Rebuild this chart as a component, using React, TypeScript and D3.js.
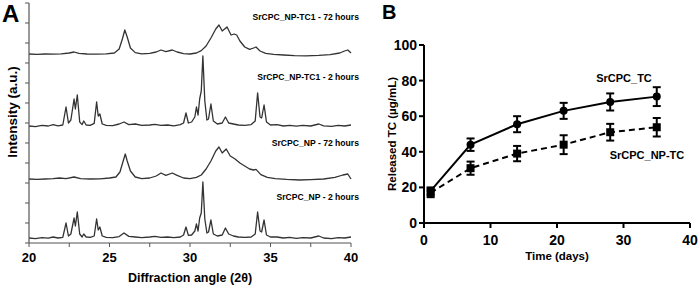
import React from "react";
import * as d3 from "d3";

// ---------- Panel A data (XRD traces, stacked, arbitrary units) ----------
const npTc1_72h: [number, number][] = [[20,9.45],[20.5,9.43],[21.0,9.45],[21.5,9.44],[22.0,9.46],[22.5,9.5],[22.8,9.55],[23.1,9.48],[23.6,9.45],[24.2,9.44],[24.8,9.46],[25.3,9.5],[25.6,9.7],[25.8,10.2],[25.95,10.65],[26.1,10.3],[26.3,9.75],[26.6,9.52],[27.0,9.46],[27.5,9.48],[27.9,9.55],[28.2,9.65],[28.5,9.57],[28.9,9.65],[29.2,9.55],[29.6,9.47],[30.0,9.45],[30.4,9.5],[30.7,9.62],[31.0,9.85],[31.3,10.25],[31.6,10.7],[31.8,10.9],[32.0,10.6],[32.3,10.8],[32.55,10.4],[32.75,10.45],[32.9,10.4],[33.1,10.1],[33.4,9.8],[33.7,9.68],[33.95,9.75],[34.1,9.8],[34.35,9.6],[34.7,9.48],[35.2,9.43],[35.8,9.4],[36.5,9.37],[37.2,9.36],[38.0,9.38],[38.7,9.42],[39.3,9.5],[39.6,9.6],[39.8,9.65],[40.0,9.5]];
const npTc1_2h: [number, number][] = [[20,5.85],[20.4,5.82],[20.8,5.88],[21.2,5.85],[21.5,5.92],[21.8,5.86],[22.1,5.9],[22.3,6.8],[22.45,6.0],[22.6,6.15],[22.8,7.2],[22.88,6.7],[23.0,7.4],[23.15,6.05],[23.3,5.92],[23.4,6.1],[23.55,5.9],[23.8,5.88],[24.05,5.98],[24.2,7.05],[24.3,6.35],[24.4,6.45],[24.55,5.95],[24.8,5.88],[25.2,5.87],[25.6,5.95],[25.9,6.05],[26.2,5.92],[26.6,5.95],[27.0,5.88],[27.5,5.9],[27.8,5.93],[28.2,5.88],[28.6,5.9],[29.0,5.86],[29.4,5.92],[29.6,6.0],[29.75,6.5],[29.9,6.0],[30.1,6.05],[30.3,6.3],[30.4,6.8],[30.5,6.4],[30.6,7.2],[30.7,7.6],[30.8,9.35],[30.92,7.1],[31.05,6.15],[31.15,6.2],[31.3,6.95],[31.45,6.1],[31.7,5.95],[32.0,6.0],[32.2,6.3],[32.4,6.0],[32.7,5.95],[33.0,5.9],[33.4,5.88],[33.8,5.92],[34.05,6.1],[34.2,7.5],[34.35,6.3],[34.45,6.25],[34.6,6.9],[34.75,6.05],[35.0,5.9],[35.4,5.92],[35.8,5.85],[36.2,5.88],[36.6,5.84],[37.0,5.88],[37.5,5.85],[38.0,5.95],[38.3,5.86],[38.8,5.83],[39.2,5.88],[39.6,5.85],[40.0,5.9]];
const np_72h: [number, number][] = [[20,3.2],[20.5,3.18],[21.0,3.2],[21.5,3.22],[21.9,3.25],[22.3,3.22],[22.8,3.3],[23.2,3.22],[23.8,3.2],[24.4,3.21],[25.0,3.25],[25.4,3.3],[25.65,3.55],[25.85,4.1],[25.98,4.45],[26.1,4.1],[26.3,3.6],[26.6,3.3],[27.0,3.22],[27.5,3.25],[27.9,3.35],[28.2,3.5],[28.5,3.38],[28.9,3.5],[29.2,3.38],[29.6,3.25],[30.0,3.22],[30.4,3.28],[30.7,3.4],[31.0,3.7],[31.3,4.1],[31.6,4.6],[31.8,4.8],[32.0,4.5],[32.25,4.7],[32.5,4.35],[32.8,4.2],[33.1,4.0],[33.4,3.85],[33.7,3.7],[33.95,3.65],[34.1,3.68],[34.4,3.42],[34.8,3.28],[35.3,3.22],[36.0,3.18],[36.8,3.15],[37.5,3.17],[38.3,3.2],[39.0,3.28],[39.5,3.4],[39.8,3.45],[40.0,3.2]];
const np_2h: [number, number][] = [[20,0.25],[20.4,0.22],[20.8,0.27],[21.2,0.24],[21.5,0.3],[21.8,0.25],[22.1,0.28],[22.3,1.0],[22.45,0.35],[22.6,0.45],[22.8,1.25],[22.88,0.85],[23.0,1.55],[23.15,0.45],[23.3,0.3],[23.4,0.45],[23.55,0.3],[23.8,0.28],[24.05,0.35],[24.2,1.2],[24.3,0.65],[24.4,0.8],[24.55,0.35],[24.8,0.28],[25.2,0.27],[25.6,0.32],[25.9,0.5],[26.2,0.33],[26.6,0.3],[27.0,0.27],[27.5,0.3],[27.8,0.33],[28.2,0.28],[28.6,0.3],[29.0,0.27],[29.4,0.3],[29.6,0.4],[29.75,0.8],[29.9,0.38],[30.1,0.4],[30.3,0.6],[30.4,0.95],[30.5,0.6],[30.6,1.25],[30.7,1.5],[30.8,3.05],[30.92,1.2],[31.05,0.5],[31.15,0.55],[31.3,1.15],[31.45,0.45],[31.7,0.35],[32.0,0.4],[32.2,0.75],[32.4,0.45],[32.7,0.35],[33.0,0.3],[33.4,0.28],[33.8,0.3],[34.05,0.45],[34.2,1.55],[34.35,0.6],[34.45,0.55],[34.6,1.15],[34.75,0.4],[35.0,0.3],[35.4,0.3],[35.8,0.25],[36.2,0.28],[36.6,0.23],[37.0,0.27],[37.5,0.25],[38.0,0.35],[38.3,0.25],[38.8,0.22],[39.2,0.27],[39.6,0.25],[40.0,0.3]];
const xrdTraces = [npTc1_72h, npTc1_2h, np_72h, np_2h];
const xrdLabels = ["SrCPC_NP-TC1 - 72 hours", "SrCPC_NP-TC1 - 2 hours", "SrCPC_NP - 72 hours", "SrCPC_NP - 2 hours"];
const xrdLabelLevels = [11.15, 8.15, 4.85, 2.15];
const xrdXTicks = [20, 25, 30, 35, 40];

// ---------- Panel B data ----------
const days = [1, 7, 14, 21, 28, 35];
const tcMean = [18, 44, 55.5, 63, 68, 71];
const tcErr = [2, 3.5, 4.5, 4.5, 4.8, 5.3];
const npTcMean = [17, 30.8, 39, 44, 51, 53.8];
const npTcErr = [2.5, 3.7, 4.3, 5.3, 4.7, 5.2];
const releaseXTicks = [0, 10, 20, 30, 40];
const releaseYTicks = [0, 20, 40, 60, 80, 100];

const FONT = "'Liberation Sans', Arial, sans-serif";

export default function App() {
  // Panel A scales
  const ax = d3.scaleLinear().domain([20, 40]).range([29, 351]);
  const ay = d3.scaleLinear().domain([0, 12]).range([243, 3]);
  const aLine = d3.line<[number, number]>().x(d => ax(d[0])).y(d => ay(d[1]));
  const aMinor = d3.range(20, 40.01, 2.5);
  const aYT = d3.range(0, 12.01, 1);

  // Panel B scales
  const bx = d3.scaleLinear().domain([0, 40]).range([424, 690]);
  const by = d3.scaleLinear().domain([0, 100]).range([223, 45]);
  const tcPts = days.map((d, i) => [d, tcMean[i]] as [number, number]);
  const npPts = days.map((d, i) => [d, npTcMean[i]] as [number, number]);
  const bLine = d3.line<[number, number]>().x(d => bx(d[0])).y(d => by(d[1]));

  const axisGray = "#555";

  return (
    <svg width={699} height={287} style={{ position: "absolute", left: 0, top: 0, background: "#fff" }} fontFamily={FONT}>
      <rect width={699} height={287} fill="#fff" />
      {/* ===== Panel A ===== */}
      <text x={2} y={22} fontSize={24} fontWeight="bold">A</text>
      {xrdTraces.map((t, i) => (
        <path key={i} d={aLine(t) || ""} fill="none" stroke="#333" strokeWidth={1.3} strokeLinejoin="round" />
      ))}
      {xrdLabels.map((l, i) => (
        <text key={l} x={359} y={ay(xrdLabelLevels[i])} fontSize={8.6} fontWeight="bold" textAnchor="end">{l}</text>
      ))}
      <line x1={ax(20)} x2={ax(20)} y1={ay(12)} y2={ay(0)} stroke={axisGray} strokeWidth={1.2} />
      <line x1={ax(20)} x2={ax(40)} y1={ay(0)} y2={ay(0)} stroke={axisGray} strokeWidth={1.2} />
      {aYT.map(v => (
        <line key={v} x1={ax(20) - 4} x2={ax(20)} y1={ay(v)} y2={ay(v)} stroke={axisGray} strokeWidth={1} />
      ))}
      {aMinor.map(v => (
        <line key={v} x1={ax(v)} x2={ax(v)} y1={ay(0)} y2={ay(0) + 4} stroke={axisGray} strokeWidth={1} />
      ))}
      {xrdXTicks.map(v => (
        <text key={v} x={ax(v)} y={262} fontSize={13} fontWeight="bold" textAnchor="middle">{v}</text>
      ))}
      <text x={190} y={282} fontSize={12.5} fontWeight="bold" textAnchor="middle">Diffraction angle (2θ)</text>
      <text transform="translate(17,112) rotate(-90)" fontSize={13.5} fontWeight="bold" textAnchor="middle">Intensity (a.u.)</text>

      {/* ===== Panel B ===== */}
      <text x={382} y={19} fontSize={20} fontWeight="bold">B</text>
      <path d={bLine(tcPts) || ""} fill="none" stroke="#000" strokeWidth={2} />
      <path d={bLine(npPts) || ""} fill="none" stroke="#000" strokeWidth={2} strokeDasharray="6,4" />
      {tcPts.map((p, i) => (
        <g key={"tc" + i}>
          <line x1={bx(p[0])} x2={bx(p[0])} y1={by(p[1] - tcErr[i])} y2={by(p[1] + tcErr[i])} stroke="#000" strokeWidth={2} />
          <line x1={bx(p[0]) - 4} x2={bx(p[0]) + 4} y1={by(p[1] + tcErr[i])} y2={by(p[1] + tcErr[i])} stroke="#000" strokeWidth={2} />
          <line x1={bx(p[0]) - 4} x2={bx(p[0]) + 4} y1={by(p[1] - tcErr[i])} y2={by(p[1] - tcErr[i])} stroke="#000" strokeWidth={2} />
          <circle cx={bx(p[0])} cy={by(p[1])} r={4} fill="#000" />
        </g>
      ))}
      {npPts.map((p, i) => (
        <g key={"np" + i}>
          <line x1={bx(p[0])} x2={bx(p[0])} y1={by(p[1] - npTcErr[i])} y2={by(p[1] + npTcErr[i])} stroke="#000" strokeWidth={2} />
          <line x1={bx(p[0]) - 4} x2={bx(p[0]) + 4} y1={by(p[1] + npTcErr[i])} y2={by(p[1] + npTcErr[i])} stroke="#000" strokeWidth={2} />
          <line x1={bx(p[0]) - 4} x2={bx(p[0]) + 4} y1={by(p[1] - npTcErr[i])} y2={by(p[1] - npTcErr[i])} stroke="#000" strokeWidth={2} />
          <rect x={bx(p[0]) - 4} y={by(p[1]) - 4} width={8} height={8} fill="#000" />
        </g>
      ))}
      <line x1={bx(0)} x2={bx(0)} y1={by(100)} y2={by(0) + 1} stroke="#000" strokeWidth={2} />
      <line x1={bx(0) - 1} x2={bx(40)} y1={by(0)} y2={by(0)} stroke="#000" strokeWidth={2} />
      {releaseYTicks.map(v => (
        <g key={v}>
          <line x1={bx(0) - 5} x2={bx(0)} y1={by(v)} y2={by(v)} stroke="#000" strokeWidth={2} />
          <text x={bx(0) - 7} y={by(v) + 5} fontSize={14} fontWeight="bold" textAnchor="end">{v}</text>
        </g>
      ))}
      {releaseXTicks.map(v => (
        <g key={v}>
          <line x1={bx(v)} x2={bx(v)} y1={by(0)} y2={by(0) + 5} stroke="#000" strokeWidth={2} />
          <text x={bx(v)} y={245} fontSize={14} fontWeight="bold" textAnchor="middle">{v}</text>
        </g>
      ))}
      <text x={557} y={260} fontSize={11.5} fontWeight="bold" textAnchor="middle">Time (days)</text>
      <text transform="translate(396,134) rotate(-90)" fontSize={11.5} fontWeight="bold" textAnchor="middle">Released TC (µg/mL)</text>
      <text x={624} y={82} fontSize={11} fontWeight="bold" textAnchor="middle">SrCPC_TC</text>
      <text x={647} y={159} fontSize={11} fontWeight="bold" textAnchor="middle">SrCPC_NP-TC</text>
    </svg>
  );
}
